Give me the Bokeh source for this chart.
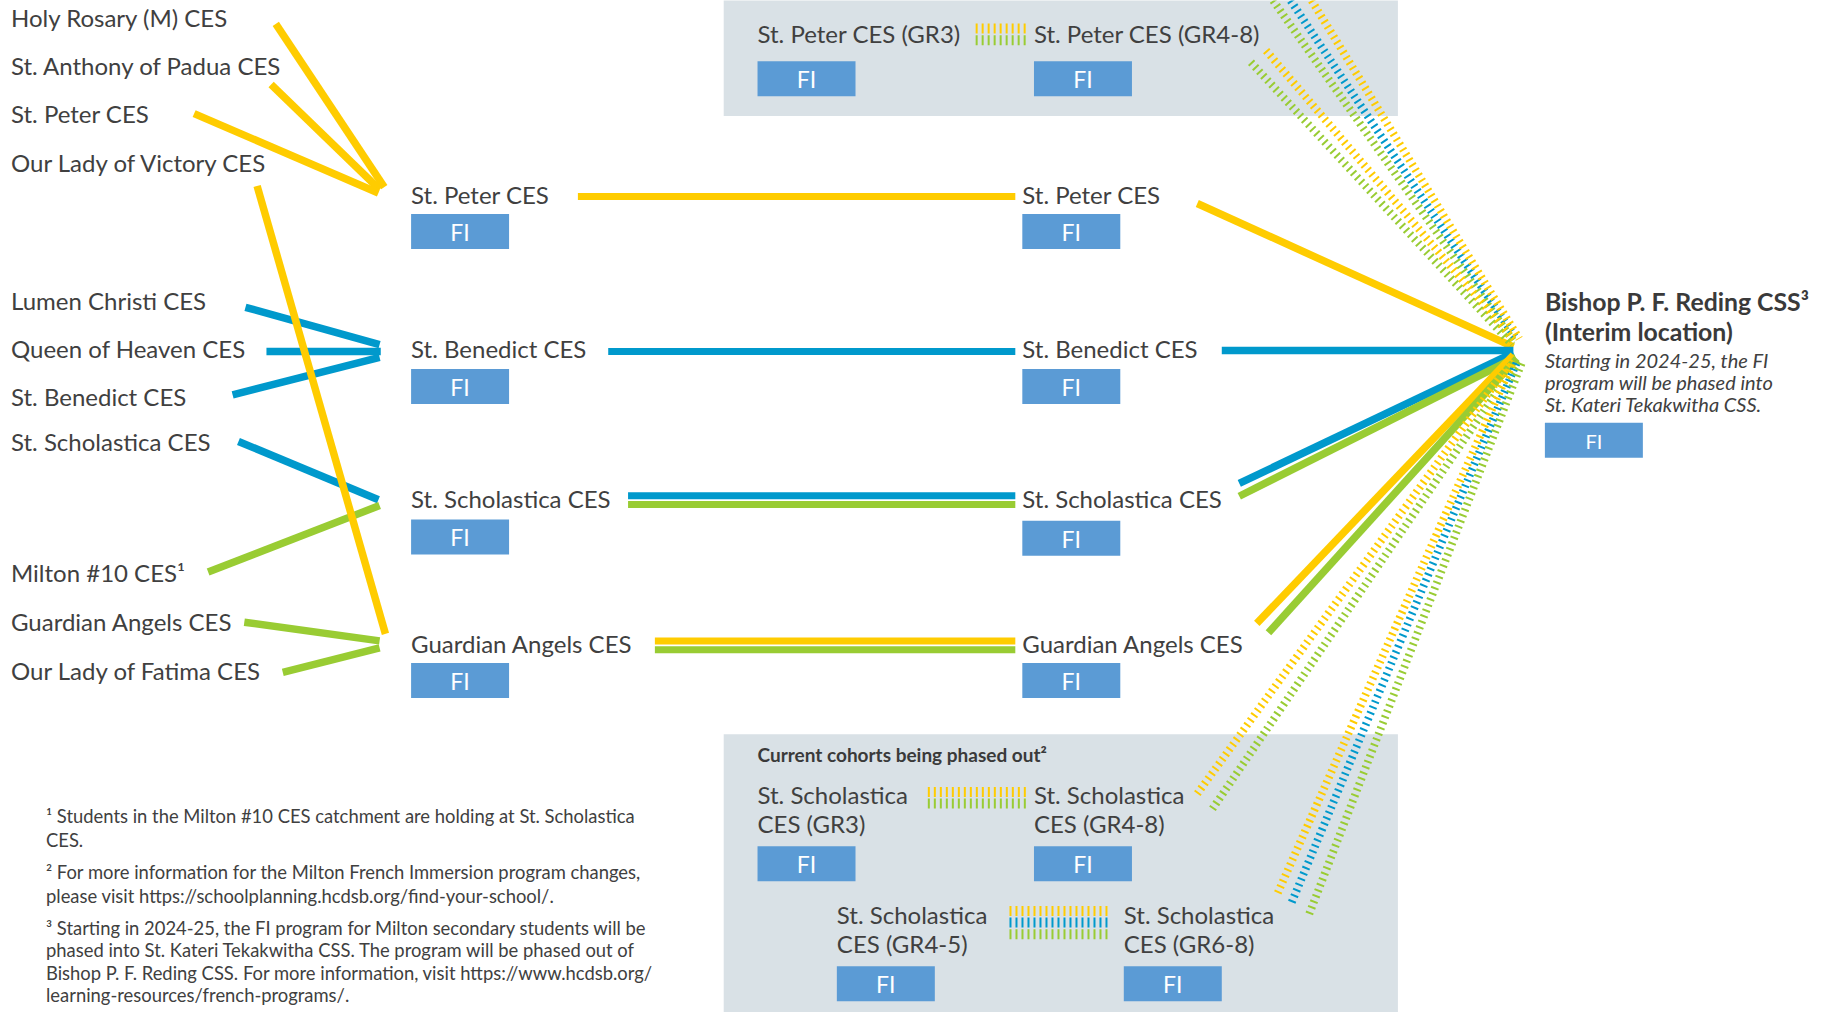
from bokeh.plotting import figure
from bokeh.models import Range1d
from bokeh.embed import file_html
from bokeh.resources import INLINE
from bokeh.core.properties import value

# ---------------- data ----------------
YELLOW, BLUE, GREEN = "#FFCC00", "#0099CC", "#99CC33"
TEXT = "#404040"
FI_BLUE = "#5B9BD5"
GREY = "#D9E1E6"

feeder_schools = ["Holy Rosary (M) CES", "St. Anthony of Padua CES", "St. Peter CES",
                  "Our Lady of Victory CES", "Lumen Christi CES", "Queen of Heaven CES",
                  "St. Benedict CES", "St. Scholastica CES", "Milton #10 CES¹",
                  "Guardian Angels CES", "Our Lady of Fatima CES"]
feeder_route = [YELLOW, YELLOW, YELLOW, YELLOW, BLUE, BLUE, BLUE, BLUE, GREEN, GREEN, GREEN]

elem_schools = ["St. Peter CES", "St. Benedict CES", "St. Scholastica CES", "Guardian Angels CES"]
hub_school = ["Bishop P. F. Reding CSS³", "(Interim location)"]
hub_note = ["Starting in 2024-25, the FI", "program will be phased into", "St. Kateri Tekakwitha CSS."]
program = "FI"

cohort_header = "Current cohorts being phased out²"
cohort_top = ["St. Peter CES (GR3)", "St. Peter CES (GR4-8)"]
cohort_bottom = [["St. Scholastica", "CES (GR3)"], ["St. Scholastica", "CES (GR4-8)"],
                 ["St. Scholastica", "CES (GR4-5)"], ["St. Scholastica", "CES (GR6-8)"]]
cohort_top_routes = [YELLOW, GREEN]
cohort_b1_routes = [YELLOW, GREEN]
cohort_b2_routes = [YELLOW, BLUE, GREEN]

footnotes = [
    "¹ Students in the Milton #10 CES catchment are holding at St. Scholastica",
    "CES.",
    "² For more information for the Milton French Immersion program changes,",
    "please visit https://schoolplanning.hcdsb.org/find-your-school/.",
    "³ Starting in 2024-25, the FI program for Milton secondary students will be",
    "phased into St. Kateri Tekakwitha CSS. The program will be phased out of",
    "Bishop P. F. Reding CSS. For more information, visit https://www.hcdsb.org/",
    "learning-resources/french-programs/.",
]

# ---------------- layout (diagram units) ----------------
feeder_label_x = 9
feeder_label_y = [15, 56, 98, 140, 258, 299, 340, 379, 491, 533, 575]
feeder_x0 = [236, 232, 166, 220, 210, 228, 199, 204, 178, 209, 242]
feeder_y0 = [20, 72, 97, 159, 263, 301, 338, 378, 490, 533, 576]
feeder_x1 = [329, 325, 324, 330, 325, 326, 325, 324, 325, 325, 325]
feeder_y1 = [160, 162, 165, 543, 295, 301, 306, 428, 433, 549, 555]

col_x = [352, 876]
node_y = [167, 299, 428, 552]
fi_top = [183, 316, 445, 568]

mid_x0 = [495, 521, 538, 538, 561, 561]
mid_y = [168, 301, 424.5, 432, 549, 556.5]
mid_col = [YELLOW, BLUE, BLUE, GREEN, YELLOW, GREEN]
mid_x1 = 870

hub_x0 = [1026, 1047, 1062, 1062, 1077, 1087]
hub_y0 = [174, 300, 414, 425, 534, 542]
hub_x1 = [1297, 1297, 1297, 1299, 1297, 1300]
hub_y1 = [297, 300, 302, 306, 304, 307]
hub_col = [YELLOW, BLUE, BLUE, GREEN, YELLOW, GREEN]

hatch_x0 = [1091, 1106, 1124, 1085, 1072, 1026, 1039, 1095, 1107, 1122]
hatch_y0 = [0, 0, 0, 43, 53, 680, 693, 765, 773, 783]
hatch_x1 = [1297, 1300, 1302, 1299, 1296, 1297, 1301, 1297, 1300, 1304]
hatch_y1 = [292, 291, 290, 293, 295, 307, 309, 309, 310, 311]
hatch_col = [GREEN, BLUE, YELLOW, YELLOW, GREEN, YELLOW, GREEN, YELLOW, BLUE, GREEN]

# ---------------- figure ----------------
K = 1829 / 1568
W, H = 1829, 1012
p = figure(width=W, height=H,
           x_range=Range1d(0, W / K),
           y_range=Range1d(H / K, 0),
           x_axis_type=None, y_axis_type=None,
           output_backend="svg", toolbar_location=None, min_border=0)
p.grid.visible = False
p.outline_line_color = None
p.background_fill_color = "white"
p.border_fill_color = "white"


def texts(xs, ys, labels, size, style="normal", color=TEXT, align="left", font="Lato"):
    p.text(x=xs, y=[y - 0.7 for y in ys], text=labels, text_font=value(font),
           text_font_size=value(f"{size}px"), text_font_style=style,
           text_color=color, text_align=align, text_baseline="middle")


def fi_boxes(lefts, tops, w=84, h=30, size=23):
    p.quad(left=lefts, right=[l + w for l in lefts], top=tops, bottom=[t + h for t in tops],
           fill_color=FI_BLUE, line_color=None)
    texts([l + w / 2 for l in lefts], [t + h / 2 + 1 for t in tops], [program] * len(lefts),
          size, color="white", align="center")


# grey cohort boxes
p.quad(left=[620, 620], right=[1198, 1198], top=[-10, 629], bottom=[99, 880],
       fill_color=GREY, line_color=None)

# feeder lines (yellow long one drawn last so it sits on top)
order = [0, 1, 2, 4, 5, 6, 7, 8, 9, 10, 3]
p.segment(x0=[feeder_x0[i] for i in order], y0=[feeder_y0[i] for i in order],
          x1=[feeder_x1[i] for i in order], y1=[feeder_y1[i] for i in order],
          line_color=[feeder_route[i] for i in order], line_width=7.5, line_cap="butt")

# column 1 -> column 2
p.segment(x0=mid_x0, y0=mid_y, x1=[mid_x1] * len(mid_x0), y1=mid_y,
          line_color=mid_col, line_width=7, line_cap="butt")

# column 2 -> hub
p.segment(x0=hub_x0, y0=hub_y0, x1=hub_x1, y1=hub_y1,
          line_color=hub_col, line_width=7.5, line_cap="butt")

# phased-out cohorts (hatched)
p.segment(x0=hatch_x0, y0=hatch_y0, x1=hatch_x1, y1=hatch_y1,
          line_color=hatch_col, line_width=8, line_dash=value("2 4"), line_cap="butt")


# hatched legend markers inside grey boxes
def marker(x0, x1, y_first, cols):
    ys = [y_first + 10 * i for i in range(len(cols))]
    p.segment(x0=[x0] * len(cols), y0=ys, x1=[x1] * len(cols), y1=ys,
              line_color=cols, line_width=10, line_dash=value("2 4"), line_cap="butt")


marker(836, 879, 24, cohort_top_routes)
marker(795, 879, 678.5, cohort_b1_routes)
marker(865, 949, 780.5, cohort_b2_routes)

# feeder labels
texts([feeder_label_x] * len(feeder_schools), feeder_label_y, feeder_schools, 24)

# elementary nodes, two columns
for cx in col_x:
    texts([cx] * len(elem_schools), node_y, elem_schools, 24)
fi_boxes([col_x[0]] * 4, fi_top)
fi_boxes([col_x[1]] * 4, [183, 316, 446, 568])

# hub school
texts([1324, 1324], [259, 284.5], hub_school, 24.8, style="bold", color="#3A3A3A")
texts([1324] * 3, [308.6, 327.4, 346.4], hub_note, 20, style="italic")
fi_boxes([1324], [362], size=20)

# top cohort box
texts([649, 886], [29, 29], cohort_top, 24)
fi_boxes([649, 886], [52, 52])

# bottom cohort box
texts([649], [647], [cohort_header], 19, style="bold", color="#3A3A3A")
bx = [649, 886, 717, 963]
by = [681, 681, 784, 784]
texts(bx, by, [c[0] for c in cohort_bottom], 24)
texts(bx, [y + 25 for y in by], [c[1] for c in cohort_bottom], 24)
fi_boxes([649, 886, 717, 963], [725, 725, 828, 828])

# footnotes
foot_y = [700, 720, 748, 768, 796, 815, 834, 853]
texts([39] * len(footnotes), foot_y, footnotes, 18.4)

open("out.html", "w").write(file_html(p, INLINE))
